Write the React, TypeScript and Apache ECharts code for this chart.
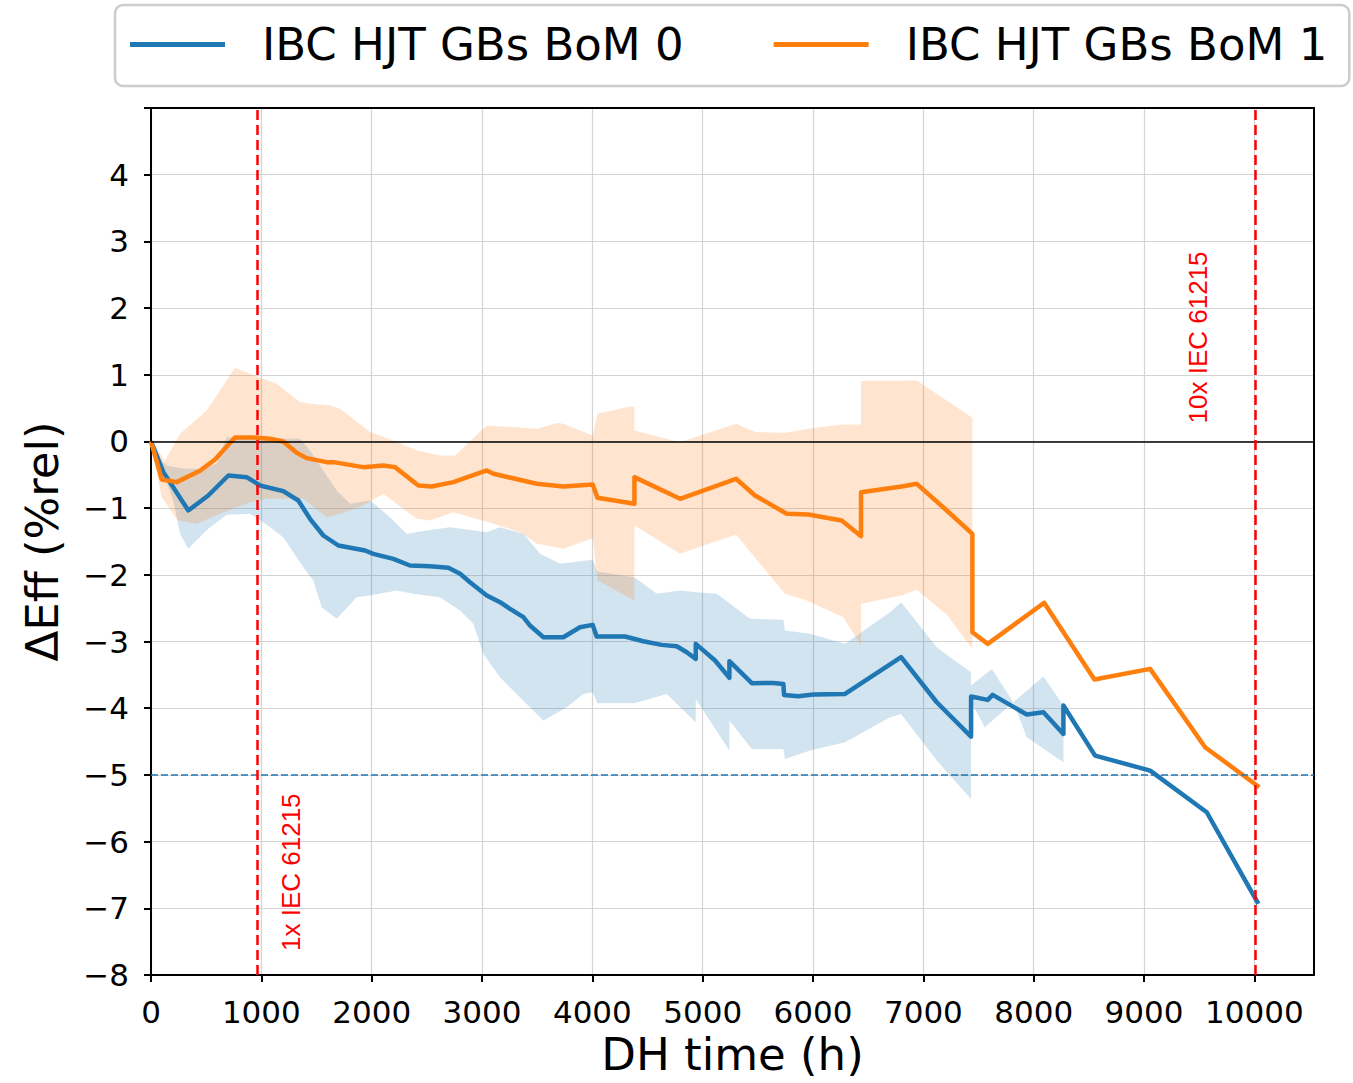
import React, { useEffect, useRef } from "react";
import * as echarts from "echarts";

// ---------------- data ----------------
const seriesNames = ["IBC HJT GBs BoM 0", "IBC HJT GBs BoM 1"];

// BoM 0 (blue) mean line
const blueX = [0, 112, 338, 519, 701, 867, 988, 1199, 1335, 1441, 1562, 1698, 1940, 2015, 2196, 2347, 2529, 2695, 2801, 2891, 3043, 3163, 3254, 3375, 3435, 3556, 3737, 3888, 4003, 4039, 4296, 4462, 4628, 4765, 4855, 4937, 4937, 5112, 5242, 5242, 5445, 5640, 5731, 5737, 5867, 6003, 6290, 6798, 7121, 7432, 7432, 7583, 7628, 7937, 8088, 8269, 8269, 8556, 9055, 9568, 10036];
const blueY = [0, -0.46, -1.035, -0.81, -0.51, -0.535, -0.66, -0.745, -0.885, -1.16, -1.41, -1.56, -1.635, -1.685, -1.76, -1.86, -1.87, -1.895, -1.985, -2.11, -2.31, -2.41, -2.51, -2.635, -2.76, -2.935, -2.935, -2.785, -2.75, -2.925, -2.925, -2.995, -3.05, -3.07, -3.16, -3.26, -3.035, -3.285, -3.545, -3.295, -3.625, -3.62, -3.635, -3.8, -3.82, -3.795, -3.785, -3.235, -3.91, -4.425, -3.825, -3.875, -3.8, -4.095, -4.06, -4.385, -3.96, -4.71, -4.935, -5.56, -6.935];

// BoM 1 (orange) mean line
const orangeX = [0, 97, 233, 444, 580, 761, 927, 1079, 1199, 1320, 1411, 1592, 1652, 1924, 2105, 2211, 2423, 2544, 2740, 3043, 3103, 3496, 3737, 4003, 4046, 4381, 4381, 4795, 5302, 5474, 5762, 5958, 6260, 6435, 6435, 6804, 6940, 7212, 7444, 7444, 7583, 8094, 8550, 9055, 9553, 10045];
const orangeY = [0, -0.57, -0.61, -0.44, -0.27, 0.06, 0.06, 0.04, 0.0, -0.17, -0.25, -0.31, -0.31, -0.385, -0.36, -0.385, -0.66, -0.675, -0.61, -0.435, -0.485, -0.635, -0.675, -0.645, -0.845, -0.935, -0.535, -0.86, -0.56, -0.81, -1.085, -1.095, -1.185, -1.42, -0.76, -0.675, -0.635, -1.035, -1.385, -2.86, -3.035, -2.42, -3.57, -3.41, -4.585, -5.185];

// BoM 0 (blue) spread band
const blueHiX = [0, 82, 145, 293, 444, 595, 686, 1000, 1350, 1441, 1562, 1683, 1804, 1985, 2166, 2317, 2499, 2710, 3043, 3163, 3375, 3526, 3707, 4003, 4046, 4381, 4584, 4795, 4946, 5127, 5248, 5429, 5731, 5746, 5973, 6290, 6698, 6798, 7121, 7242, 7432, 7432, 7620, 7815, 8088, 8269];
const blueHiY = [0, -0.285, -0.36, -0.41, -0.41, -0.335, 0.065, 0.05, 0.04, -0.135, -0.435, -0.735, -0.935, -0.885, -1.135, -1.385, -1.335, -1.285, -1.36, -1.285, -1.385, -1.685, -1.835, -1.775, -1.95, -2.035, -2.285, -2.235, -2.26, -2.285, -2.435, -2.66, -2.675, -2.835, -2.885, -3.035, -2.56, -2.41, -3.085, -3.235, -3.46, -3.66, -3.41, -3.91, -3.525, -3.96];
const blueLoX = [0, 202, 263, 338, 519, 686, 897, 1018, 1199, 1381, 1471, 1547, 1683, 1864, 1985, 2227, 2378, 2619, 2801, 2921, 3012, 3163, 3405, 3556, 3768, 3918, 4003, 4046, 4381, 4674, 4937, 4937, 5242, 5242, 5445, 5731, 5746, 5973, 6290, 6698, 6798, 7121, 7432, 7432, 7556, 7815, 7937, 8269];
const blueLoY = [0, -0.885, -1.385, -1.61, -1.31, -1.1, -1.085, -1.21, -1.435, -1.885, -2.085, -2.485, -2.66, -2.335, -2.31, -2.235, -2.285, -2.335, -2.535, -2.735, -3.185, -3.535, -3.935, -4.185, -3.985, -3.785, -3.76, -3.925, -3.925, -3.785, -4.21, -3.86, -4.635, -4.185, -4.61, -4.61, -4.76, -4.635, -4.51, -4.135, -4.085, -4.785, -5.36, -3.9, -4.285, -3.91, -4.435, -4.81];

// BoM 1 (orange) spread band
const orangeHiX = [0, 127, 263, 505, 761, 897, 1139, 1350, 1441, 1622, 1713, 1985, 2196, 2408, 2619, 2755, 3043, 3496, 3677, 3737, 4003, 4046, 4342, 4381, 4381, 4795, 5302, 5474, 5762, 5958, 6260, 6435, 6435, 6940, 7444];
const orangeHiY = [0, -0.285, 0.115, 0.465, 1.105, 1.015, 0.865, 0.59, 0.565, 0.54, 0.49, 0.14, 0.015, -0.135, -0.21, -0.21, 0.24, 0.19, 0.275, 0.265, 0.09, 0.415, 0.525, 0.515, 0.165, -0.01, 0.265, 0.14, 0.13, 0.19, 0.255, 0.255, 0.905, 0.915, 0.355];
const orangeLoX = [0, 97, 242, 414, 625, 897, 1049, 1381, 1592, 1713, 1804, 1955, 2105, 2408, 2529, 2740, 3103, 3345, 3496, 3737, 4003, 4046, 4381, 4381, 4795, 5302, 5746, 5943, 6275, 6435, 6435, 6804, 6940, 7212, 7444];
const orangeLoY = [0, -0.835, -1.185, -1.235, -1.085, -0.91, -0.86, -0.86, -1.135, -1.085, -1.035, -0.935, -0.785, -1.16, -1.185, -1.06, -1.235, -1.36, -1.535, -1.61, -1.45, -2.085, -2.385, -1.26, -1.685, -1.395, -2.285, -2.385, -2.635, -3.06, -2.435, -2.31, -2.225, -2.6, -3.11];

// reference lines
const zeroLevel = 0;
const limitLevel = -5;
const iecHours = [965, 10005];
const iecLabels = ["1x IEC 61215", "10x IEC 61215"];
const iecLabelX = [1269, 9490];
const iecLabelY = [-7.64, 0.27];

// axes
const xTicks = [0, 1000, 2000, 3000, 4000, 5000, 6000, 7000, 8000, 9000, 10000];
const yTicks = [-8, -7, -6, -5, -4, -3, -2, -1, 0, 1, 2, 3, 4];
const xMin = 0;
const xMax = 10540;
const yMin = -8;
const yMax = 5;

const BLUE = "#1f77b4";
const ORANGE = "#ff7f0e";
const FONT = "DejaVu Sans";

const zip = (xs: number[], ys: number[]) => xs.map((x, i) => [x, ys[i]]);

function bandSeries(hiX: number[], hiY: number[], loX: number[], loY: number[], fill: string) {
  const pts = zip(hiX, hiY).concat(zip(loX, loY).reverse());
  return {
    type: "custom",
    silent: true,
    z: 1,
    data: pts,
    renderItem: (params: any, api: any) => {
      if (params.dataIndex !== 0) return null;
      const points = pts.map((p) => api.coord(p));
      return { type: "polygon", shape: { points }, style: { fill } };
    },
  };
}

const frameAxis = (extra: any) => ({
  type: "value",
  min: extra.min,
  max: extra.max,
  position: extra.position,
  axisLine: { show: true, onZero: false, lineStyle: { color: "#000", width: 2 } },
  axisTick: { show: false },
  axisLabel: { show: false },
  splitLine: { show: false },
});

export default function App() {
  const ref = useRef<HTMLDivElement>(null);
  useEffect(() => {
    document.body.style.margin = "0";
    const chart = echarts.init(ref.current!, null, { renderer: "svg" });
    const option: any = {
      animation: false,
      backgroundColor: "#ffffff",
      textStyle: { fontFamily: FONT },
      grid: {
        left: 151,
        top: 108,
        right: 39,
        bottom: 108,
        containLabel: false,
        outerBoundsMode: "none",
        show: true,
        borderWidth: 0,
        backgroundColor: "#fff",
      },
      legend: {
        left: 115,
        top: 5,
        padding: [17, 22, 19, 15],
        itemGap: 90,
        itemWidth: 95,
        itemHeight: 5,
        backgroundColor: "#fff",
        borderColor: "#cccccc",
        borderWidth: 2.5,
        borderRadius: 8,
        textStyle: { fontSize: 45, fontFamily: FONT, color: "#000", padding: [0, 0, 0, 32] },
        data: [
          { name: seriesNames[0], icon: "rect" },
          { name: seriesNames[1], icon: "rect" },
        ],
      },
      xAxis: [
        {
          type: "value",
          min: xMin,
          max: xMax,
          interval: 1000,
          position: "bottom",
          name: "DH time (h)",
          nameLocation: "middle",
          nameGap: 57,
          nameTextStyle: { fontSize: 45, lineHeight: 44, fontFamily: FONT, color: "#000" },
          axisLine: { show: true, onZero: false, lineStyle: { color: "#000", width: 2 } },
          axisTick: { show: true, length: 7, lineStyle: { color: "#000", width: 2 } },
          axisLabel: {
            fontSize: 31,
            fontFamily: FONT,
            color: "#000",
            margin: 21,
            showMaxLabel: false,
            formatter: (v: number) => (xTicks.includes(v) ? String(v) : ""),
          },
          splitLine: { show: true, showMaxLine: false, lineStyle: { color: "#d4d4d4", width: 1.2 } },
        },
        frameAxis({ min: xMin, max: xMax, position: "top" }),
      ],
      yAxis: [
        {
          type: "value",
          min: yMin,
          max: yMax,
          interval: 1,
          position: "left",
          name: "\u0394Eff (%rel)",
          nameLocation: "middle",
          nameGap: 86,
          nameTextStyle: { fontSize: 45, fontFamily: FONT, color: "#000" },
          axisLine: { show: true, onZero: false, lineStyle: { color: "#000", width: 2 } },
          axisTick: { show: true, length: 7, lineStyle: { color: "#000", width: 2 } },
          axisLabel: {
            fontSize: 31,
            fontFamily: FONT,
            color: "#000",
            margin: 22,
            formatter: (v: number) => (yTicks.includes(v) ? (v < 0 ? "\u2212" + Math.abs(v) : String(v)) : ""),
          },
          splitLine: { show: true, showMaxLine: false, lineStyle: { color: "#d4d4d4", width: 1.2 } },
        },
        frameAxis({ min: yMin, max: yMax, position: "right" }),
      ],
      series: [
        bandSeries(blueHiX, blueHiY, blueLoX, blueLoY, "rgba(31,119,180,0.2)"),
        bandSeries(orangeHiX, orangeHiY, orangeLoX, orangeLoY, "rgba(255,127,14,0.2)"),
        {
          type: "line",
          name: "refs",
          data: [],
          silent: true,
          z: 2,
          markLine: {
            silent: true,
            symbol: "none",
            animation: false,
            label: { show: false },
            data: [
              { yAxis: zeroLevel, lineStyle: { color: "#000", width: 1.6, type: "solid" } },
              { yAxis: limitLevel, lineStyle: { color: BLUE, width: 1.5, opacity: 1, type: [7, 3] } },
            ],
          },
        },
        {
          type: "line",
          name: seriesNames[0],
          data: zip(blueX, blueY),
          showSymbol: false,
          symbol: "none",
          z: 4,
          color: BLUE,
          lineStyle: { color: BLUE, width: 4.5, join: "round" },
        },
        {
          type: "line",
          name: seriesNames[1],
          data: zip(orangeX, orangeY),
          showSymbol: false,
          symbol: "none",
          z: 4,
          color: ORANGE,
          lineStyle: { color: ORANGE, width: 4.5, join: "round" },
        },
        {
          type: "line",
          name: "iec",
          data: [],
          silent: true,
          z: 5,
          markLine: {
            silent: true,
            symbol: "none",
            animation: false,
            label: { show: false },
            data: iecHours.map((h) => ({ xAxis: h, lineStyle: { color: "#ff0000", width: 2.5, opacity: 1, type: [10, 5] } })),
          },
        },
        {
          type: "custom",
          name: "iecText",
          silent: true,
          z: 6,
          data: iecLabelX.map((x, i) => [x, iecLabelY[i]]),
          renderItem: (params: any, api: any) => {
            const p = api.coord([api.value(0), api.value(1)]);
            return {
              type: "text",
              x: p[0],
              y: p[1],
              rotation: Math.PI / 2,
              style: {
                text: iecLabels[params.dataIndex],
                fill: "#ff0000",
                fontSize: 26,
                fontFamily: "Liberation Sans",
                align: "left",
                verticalAlign: "middle",
              },
            };
          },
        },
      ],
    };
    chart.setOption(option);
    return () => chart.dispose();
  }, []);
  return <div ref={ref} style={{ width: 1353, height: 1083 }} />;
}
